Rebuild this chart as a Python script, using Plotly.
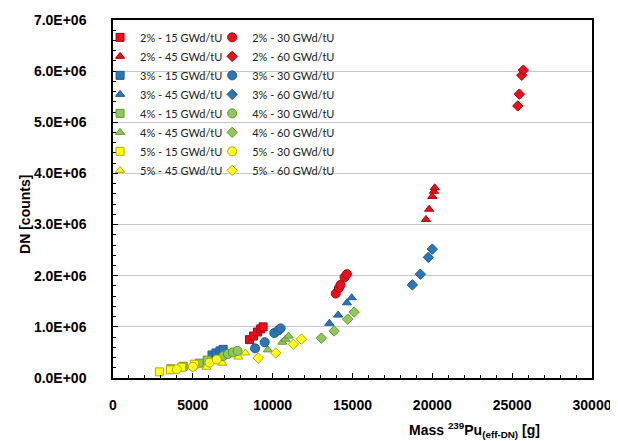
import plotly.graph_objects as go

# ---- data ----
enrichments = ["2%", "3%", "4%", "5%"]
burnups = ["15", "30", "45", "60"]

mass_2_15 = [8550, 8800, 9050, 9250, 9400]
dn_2_15 = [7.5e5, 8.2e5, 9.0e5, 9.6e5, 1.0e6]
mass_2_30 = [13950, 14150, 14250, 14500, 14650]
dn_2_30 = [1.65e6, 1.76e6, 1.82e6, 1.97e6, 2.03e6]
mass_2_45 = [19600, 19800, 20000, 20100, 20150]
dn_2_45 = [3.10e6, 3.30e6, 3.55e6, 3.65e6, 3.72e6]
mass_2_60 = [25350, 25450, 25600, 25700]
dn_2_60 = [5.32e6, 5.55e6, 5.92e6, 6.02e6]

mass_3_15 = [6200, 6450, 6700, 6900]
dn_3_15 = [4.5e5, 4.9e5, 5.3e5, 5.6e5]
mass_3_30 = [8900, 9500, 10100, 10350, 10500]
dn_3_30 = [5.8e5, 7.0e5, 8.8e5, 9.3e5, 9.7e5]
mass_3_45 = [13550, 14100, 14650, 14950]
dn_3_45 = [1.07e6, 1.23e6, 1.47e6, 1.57e6]
mass_3_60 = [18750, 19250, 19750, 20000]
dn_3_60 = [1.82e6, 2.03e6, 2.36e6, 2.52e6]

mass_4_15 = [3600, 4400, 5400, 5900]
dn_4_15 = [1.8e5, 2.3e5, 2.9e5, 3.5e5]
mass_4_30 = [6900, 7200, 7500, 7800]
dn_4_30 = [4.3e5, 4.7e5, 5.0e5, 5.3e5]
mass_4_45 = [9700, 10600, 10800, 11000]
dn_4_45 = [5.5e5, 7.0e5, 7.6e5, 8.2e5]
mass_4_60 = [13050, 13850, 14700, 15100]
dn_4_60 = [7.8e5, 9.2e5, 1.15e6, 1.29e6]

mass_5_15 = [2900, 3600, 4300, 5100]
dn_5_15 = [1.2e5, 1.6e5, 2.1e5, 2.7e5]
mass_5_30 = [4000, 5000, 6050, 6500]
dn_5_30 = [1.7e5, 2.2e5, 3.0e5, 3.6e5]
mass_5_45 = [5850, 6850, 7850, 8300]
dn_5_45 = [2.1e5, 2.9e5, 4.1e5, 4.9e5]
mass_5_60 = [9100, 10200, 11300, 11800]
dn_5_60 = [3.9e5, 4.9e5, 6.6e5, 7.6e5]

y_tickvals = [0, 1e6, 2e6, 3e6, 4e6, 5e6, 6e6, 7e6]
y_ticklabels = ["0.0E+00", "1.0E+06", "2.0E+06", "3.0E+06",
                "4.0E+06", "5.0E+06", "6.0E+06", "7.0E+06"]

series = {
    ("2%", "15"): (mass_2_15, dn_2_15), ("2%", "30"): (mass_2_30, dn_2_30),
    ("2%", "45"): (mass_2_45, dn_2_45), ("2%", "60"): (mass_2_60, dn_2_60),
    ("3%", "15"): (mass_3_15, dn_3_15), ("3%", "30"): (mass_3_30, dn_3_30),
    ("3%", "45"): (mass_3_45, dn_3_45), ("3%", "60"): (mass_3_60, dn_3_60),
    ("4%", "15"): (mass_4_15, dn_4_15), ("4%", "30"): (mass_4_30, dn_4_30),
    ("4%", "45"): (mass_4_45, dn_4_45), ("4%", "60"): (mass_4_60, dn_4_60),
    ("5%", "15"): (mass_5_15, dn_5_15), ("5%", "30"): (mass_5_30, dn_5_30),
    ("5%", "45"): (mass_5_45, dn_5_45), ("5%", "60"): (mass_5_60, dn_5_60),
}

# ---- styles ----
fill = {"2%": "#E8101C", "3%": "#2E75B6", "4%": "#92C857", "5%": "#FFFF1A"}
edge = {"2%": "#B0000E", "3%": "#1F5A8E", "4%": "#5E9A30", "5%": "#B8A800"}
symbol = {"15": "square", "30": "circle", "45": "triangle-up", "60": "diamond"}
size = {"15": 8, "30": 9, "45": 8, "60": 8}

fig = go.Figure()
# left legend column: 15 and 45; right column: 30 and 60
for col_burnups, legend_id in ((["15", "45"], "legend"), (["30", "60"], "legend2")):
    for e in enrichments:
        for b in col_burnups:
            xs, ys = series[(e, b)]
            fig.add_trace(go.Scatter(
                x=xs, y=ys, mode="markers",
                name=f"{e} - {b} GWd/tU",
                legend=legend_id,
                marker=dict(symbol=symbol[b], size=size[b], color=fill[e],
                            line=dict(color=edge[e], width=1)),
            ))

bold_font = "Liberation Sans, Arial, sans-serif"
legend_font = dict(family="Lato, Open Sans, sans-serif", size=11, color="#222")
fig.update_layout(
    width=610, height=433,
    margin=dict(l=105, r=26, t=12, b=63, autoexpand=False),
    paper_bgcolor="white", plot_bgcolor="white",
    showlegend=True,
    legend=dict(x=-0.027, y=0.992, xanchor="left", yanchor="top",
                bgcolor="rgba(0,0,0,0)", font=legend_font,
                tracegroupgap=0, itemwidth=30),
    legend2=dict(x=0.207, y=0.992, xanchor="left", yanchor="top",
                 bgcolor="rgba(0,0,0,0)", font=legend_font,
                 tracegroupgap=0, itemwidth=30),
    font=dict(family=bold_font, color="black"),
)

fig.update_xaxes(
    range=[0, 30000], dtick=5000, tickformat="d", automargin=False,
    showline=True, linecolor="black", linewidth=1.5, mirror=True,
    ticks="inside", ticklen=5, tickcolor="black",
    minor=dict(dtick=1000, ticks="inside", ticklen=3, tickcolor="black"),
    showgrid=False, zeroline=False, ticklabelstandoff=13,
    tickfont=dict(family=bold_font, size=14, color="black", weight="bold"),
)
fig.update_yaxes(
    range=[0, 7e6], tickvals=y_tickvals, ticktext=y_ticklabels, automargin=False,
    showline=True, linecolor="black", linewidth=1.5, mirror=True,
    ticks="inside", ticklen=5, tickcolor="black",
    minor=dict(dtick=2e5, ticks="inside", ticklen=3, tickcolor="black"),
    showgrid=True, gridcolor="#C8C8C8", gridwidth=1, zeroline=False,
    ticklabelstandoff=22,
    tickfont=dict(family=bold_font, size=14, color="black", weight="bold"),
)

fig.add_annotation(
    text="<b>DN [counts]</b>", textangle=-90,
    xref="paper", yref="paper", x=-0.184, y=0.458, xanchor="center", yanchor="middle",
    showarrow=False, font=dict(family=bold_font, size=14, color="black"),
)
fig.add_annotation(
    text="<b>Mass <sup>239</sup>Pu<sub>(eff-DN)</sub> [g]</b>",
    xref="paper", yref="paper", x=0.754, y=-0.145, xanchor="center", yanchor="middle",
    showarrow=False, font=dict(family=bold_font, size=14, color="black"),
)

fig.write_html("out.html")
